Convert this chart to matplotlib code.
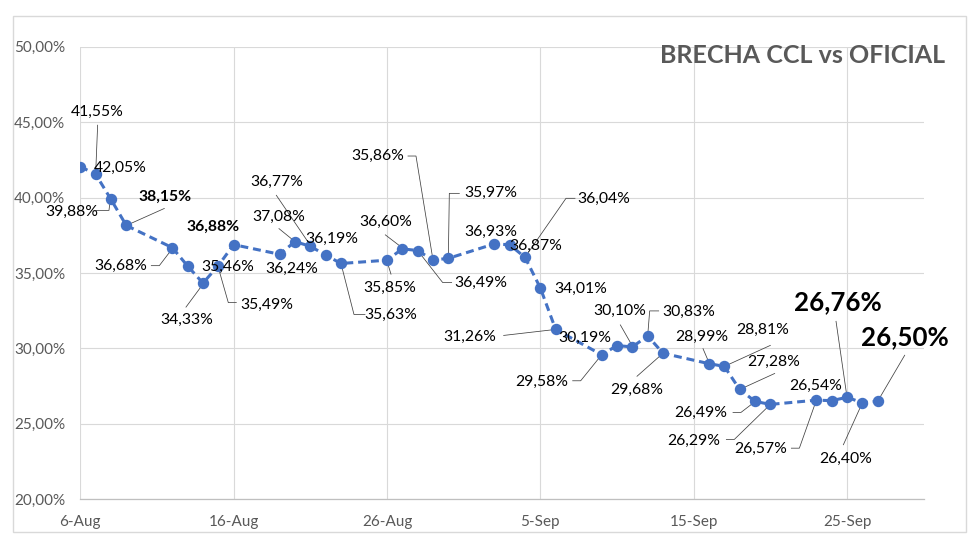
import matplotlib
matplotlib.use("Agg")
import matplotlib.pyplot as plt
import matplotlib.dates as mdates
from matplotlib.patches import Rectangle
import numpy as np

# ---------------- data ----------------
dates = ["2024-08-06", "2024-08-07", "2024-08-08", "2024-08-09", "2024-08-12",
         "2024-08-13", "2024-08-14", "2024-08-15", "2024-08-16", "2024-08-19",
         "2024-08-20", "2024-08-21", "2024-08-22", "2024-08-23", "2024-08-26",
         "2024-08-27", "2024-08-28", "2024-08-29", "2024-08-30", "2024-09-02",
         "2024-09-03", "2024-09-04", "2024-09-05", "2024-09-06", "2024-09-09",
         "2024-09-10", "2024-09-11", "2024-09-12", "2024-09-13", "2024-09-16",
         "2024-09-17", "2024-09-18", "2024-09-19", "2024-09-20", "2024-09-23",
         "2024-09-24", "2024-09-25", "2024-09-26", "2024-09-27"]
brecha = [42.05, 41.55, 39.88, 38.15, 36.68,
          35.46, 34.33, 35.49, 36.88, 36.24,
          37.08, 36.77, 36.19, 35.63, 35.85,
          36.60, 36.49, 35.86, 35.97, 36.93,
          36.87, 36.04, 34.01, 31.26, 29.58,
          30.19, 30.10, 30.83, 29.68, 28.99,
          28.81, 27.28, 26.49, 26.29, 26.57,
          26.54, 26.76, 26.40, 26.50]
x_tick_dates = ["2024-08-06", "2024-08-16", "2024-08-26", "2024-09-05", "2024-09-15", "2024-09-25"]
x_tick_labels = ["6-Aug", "16-Aug", "26-Aug", "5-Sep", "15-Sep", "25-Sep"]
y_ticks = [20, 25, 30, 35, 40, 45, 50]
y_tick_labels = ["20,00%", "25,00%", "30,00%", "35,00%", "40,00%", "45,00%", "50,00%"]
title = "BRECHA CCL vs OFICIAL"

# ---------------- label layout (pixel offsets from point, y up) ----------------
label_offsets = [(40, -1), (2, 62), (-39, -13), (39, 29), (-52, -18),
                 (40, -1), (-16, -37), (49, -39), (-21, 18), (12, -15),
                 (-16, 25), (-34, 64), (6, 16), (50, -51), (3, -28),
                 (-17, 27), (63, -32), (-55, 104), (43, 65), (-3, 12),
                 (26, -1), (79, 58), (40, -1), (-86, -7), (-60, -27),
                 (-32, 8), (-13, 36), (41, 24), (-26, -37), (-7, 27),
                 (38, 36), (34, 28), (-54, -12), (-77, -36), (-56, -49),
                 (-16, 15), (-9, 95), (-17, -56), (27, 64)]
leaders = [None, [(2, 49), (0, 0)], [(-15, -11), (-2, -11), (-1, -3)], [(38, 17), (0, 0)],
           [(-21, -18), (-13, -18), (0, -1)],
           None, [(-17, -24), (0, -1)], [(18, -37), (10, -37), (0, -2)], None, None,
           [(-16, 13), (0, 0)], [(-34, 51), (0, 1)], None, [(24, -51), (13, -51), (0, 0)],
           [(4, -14), (0, -1)],
           [(-17, 14), (0, 1)], [(34, -32), (25, -32), (0, 0)], [(-25, 104), (-17, 104), (0, 0)],
           [(11, 65), (1, 65), (0, 0)], None,
           None, [(50, 59), (41, 59), (0, 0)], None, [(-52, -6), (0, 0)],
           [(-29, -26), (-21, -26), (0, 0)],
           None, [(-12, 22), (0, 1)], [(11, 25), (2, 25), (0, 0)], [(-26, -23), (0, 0)],
           [(-6, 15), (0, 1)],
           [(46, 21), (0, 0)], [(35, 16), (0, 0)], [(-22, -11), (-14, -11), (-1, -1)],
           [(-44, -35), (-36, -35), (0, 0)], [(-25, -48), (-17, -48), (0, 0)],
           None, [(-11, 76), (0, 0)], [(-19, -42), (0, 0)], [(27, 46), (0, 0)]]
bold_small = {3, 8}
bold_big = {36, 38}

FONT = "Lato"
plt.rcParams["font.family"] = [FONT, "DejaVu Sans"]

W, H = 980, 547
fig = plt.figure(figsize=(W / 100, H / 100), dpi=100)
fig.patch.set_facecolor("white")

# outer chart frame
fig.patches.append(Rectangle((13 / W, 1 - 532 / H), (966 - 13) / W, (532 - 16) / H,
                             transform=fig.transFigure, fill=False,
                             edgecolor="#d9d9d9", lw=1.0))

left, right, top, bottom = 80.3, 923.7, 46.7, 499.3
ax = fig.add_axes([left / W, 1 - bottom / H, (right - left) / W, (bottom - top) / H])

xd = mdates.datestr2num(dates)
xt = mdates.datestr2num(x_tick_dates)
ax.set_xlim(mdates.datestr2num("2024-08-06"), mdates.datestr2num("2024-09-30"))
ax.set_ylim(20, 50)

ax.set_xticks(xt)
ax.set_xticklabels(x_tick_labels)
ax.set_yticks(y_ticks)
ax.set_yticklabels(y_tick_labels)
ax.tick_params(axis="both", length=0, labelsize=11, labelcolor="#595959")
ax.tick_params(axis="y", pad=11)
ax.tick_params(axis="x", pad=11)
ax.grid(True, color="#d9d9d9", lw=0.8)
ax.set_axisbelow(True)
for s in ["top", "right", "left"]:
    ax.spines[s].set_visible(False)
ax.spines["bottom"].set_color("#bfbfbf")
ax.spines["bottom"].set_linewidth(0.9)

blue = "#4472C4"
ax.plot(xd, brecha, color=blue, lw=2.2, linestyle=(0, (2.6, 1.6)),
        marker="o", markersize=7.2, markerfacecolor=blue, markeredgecolor=blue, zorder=3)

inv = ax.transData.inverted()
for i, (x, v) in enumerate(zip(xd, brecha)):
    txt = f"{v:.2f}".replace(".", ",") + "%"
    if i in bold_big:
        fs, fw = 18.6, "bold"
    elif i in bold_small:
        fs, fw = 11.3, "bold"
    else:
        fs, fw = 11.3, "normal"
    dx, dy = label_offsets[i]
    ax.annotate(txt, xy=(x, v), xytext=(dx, dy), textcoords="offset pixels",
                ha="center", va="center", fontsize=fs, fontweight=fw,
                color="black", zorder=5, annotation_clip=False)
    if leaders[i] is not None:
        px, py = ax.transData.transform((x, v))
        pts = np.array([(px + ox, py + oy) for ox, oy in leaders[i]])
        dpts = inv.transform(pts)
        ax.plot(dpts[:, 0], dpts[:, 1], color="#404040", lw=0.55, zorder=2,
                clip_on=False)

fig.text(803 / W, 1 - 55 / H, title, ha="center", va="center", fontsize=18,
         fontweight="bold", color="#595959")

fig.savefig("out.png", dpi=100, facecolor="white")
